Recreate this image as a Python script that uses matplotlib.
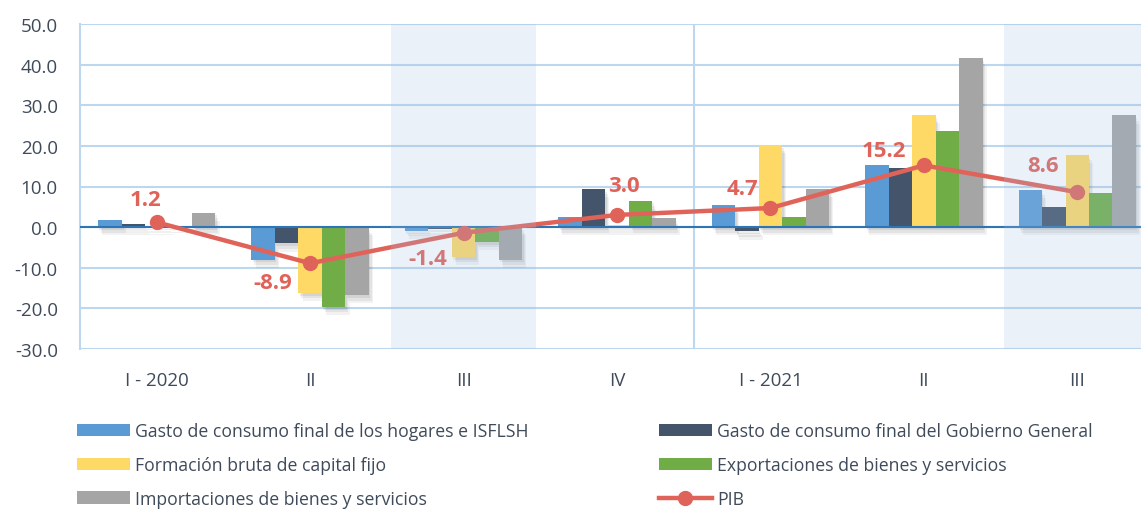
import matplotlib
matplotlib.use('Agg')
import matplotlib.pyplot as plt
import numpy as np
from matplotlib import patheffects as pe
from matplotlib.patches import Rectangle, Patch
from matplotlib.lines import Line2D

plt.rcParams['font.family'] = ['Open Sans', 'DejaVu Sans']

categories = ['I - 2020', 'II', 'III', 'IV', 'I - 2021', 'II', 'III']
hogares = [1.8, -8.0, -0.9, 2.6, 5.5, 15.3, 9.2]
gobierno = [0.7, -4.0, -0.5, 9.4, -1.0, 14.5, 5.0]
fbkf = [0.3, -16.2, -7.3, 0.6, 20.2, 27.6, 17.8]
exportaciones = [0.2, -19.6, -3.6, 6.5, 2.5, 23.7, 8.5]
importaciones = [3.6, -16.7, -8.0, 2.2, 9.4, 41.6, 27.5]
pib = [1.2, -8.9, -1.4, 3.0, 4.7, 15.2, 8.6]
highlighted = [2, 6]

series_names = ['Gasto de consumo final de los hogares e ISFLSH',
                'Gasto de consumo final del Gobierno General',
                'Formación bruta de capital fijo',
                'Exportaciones de bienes y servicios',
                'Importaciones de bienes y servicios']
series = [hogares, gobierno, fbkf, exportaciones, importaciones]
colors = ['#5b9bd5', '#44546a', '#ffd966', '#70ad47', '#a5a5a5']
line_color = '#e0635a'
text_color = '#3f4a5a'
grid_color = '#bdd7ee'

W, H = 1141, 510
fig = plt.figure(figsize=(W / 100, H / 100), dpi=100)
ax = fig.add_axes([80 / W, 1 - 350 / H, 1074 / W, 325 / H])

x = np.arange(len(categories))
bw = 0.153
shadow = [pe.SimplePatchShadow(offset=(1, -2), shadow_rgbFace='#000000', alpha=0.07),
          pe.SimplePatchShadow(offset=(2, -4), shadow_rgbFace='#000000', alpha=0.06),
          pe.SimplePatchShadow(offset=(3, -6), shadow_rgbFace='#000000', alpha=0.05),
          pe.Normal()]
for i, (vals, c) in enumerate(zip(series, colors)):
    bars = ax.bar(x + (i - 2) * bw, vals, width=bw, color=c, zorder=3, linewidth=0)
    for b in bars:
        b.set_path_effects(shadow)

ax.axhline(0, color='#2e75b6', lw=1.5, zorder=4)
ax.plot(x, pib, color=line_color, lw=3.2, marker='o', markersize=10, zorder=5,
        solid_capstyle='round')

offsets_px = [(-11, 23), (-37, -19), (-36, -26), (7, 29), (-28, 20), (-40, 15), (-34, 27)]
for xi, v, (dx, dy) in zip(x, pib, offsets_px):
    ax.annotate(f'{v:.1f}', (xi, v), xytext=(dx * 0.72, dy * 0.72), textcoords='offset points',
                ha='center', va='center', fontsize=16, fontweight='bold', color=line_color, zorder=6)

for h in highlighted:
    ax.add_patch(Rectangle((h - 0.475, -30), 0.95, 80, facecolor='#a0c0e1', alpha=0.22,
                           edgecolor='none', zorder=7))

ax.axvline(3.5, color=grid_color, lw=1.5, zorder=1)
ax.set_xlim(-0.5, 6.5)
ax.set_ylim(-30, 50)
ax.set_yticks(np.arange(-30, 51, 10))
ax.set_yticklabels([f'{t:.1f}' for t in np.arange(-30, 51, 10)])
ax.set_xticks(x)
ax.set_xticklabels(categories)
ax.yaxis.grid(True, color=grid_color, lw=1.5, zorder=0)
ax.set_axisbelow(True)
for s in ['top', 'right', 'bottom']:
    ax.spines[s].set_visible(False)
ax.spines['left'].set_color(grid_color)
ax.spines['left'].set_linewidth(1.5)
ax.tick_params(axis='both', length=0, labelsize=13.5, colors=text_color)
ax.tick_params(axis='x', pad=16)
ax.tick_params(axis='y', pad=16)

h1 = [Patch(facecolor=colors[0]), Patch(facecolor=colors[2]), Patch(facecolor=colors[4])]
l1 = [series_names[0], series_names[2], series_names[4]]
h2 = [Patch(facecolor=colors[1]), Patch(facecolor=colors[3]),
      Line2D([0], [0], color=line_color, lw=3.2, marker='o', markersize=10)]
l2 = [series_names[1], series_names[3], 'PIB']
common = dict(frameon=False, fontsize=12.7, handlelength=3.0, handleheight=0.7,
              handletextpad=0.3, labelspacing=0.9, borderpad=0, borderaxespad=0,
              labelcolor=text_color, loc='upper left')
leg1 = fig.legend(h1, l1, bbox_to_anchor=(77 / W, 1 - 423 / H), **common)
leg2 = fig.legend(h2, l2, bbox_to_anchor=(659 / W, 1 - 423 / H), **common)

fig.savefig('out.png', dpi=100)
